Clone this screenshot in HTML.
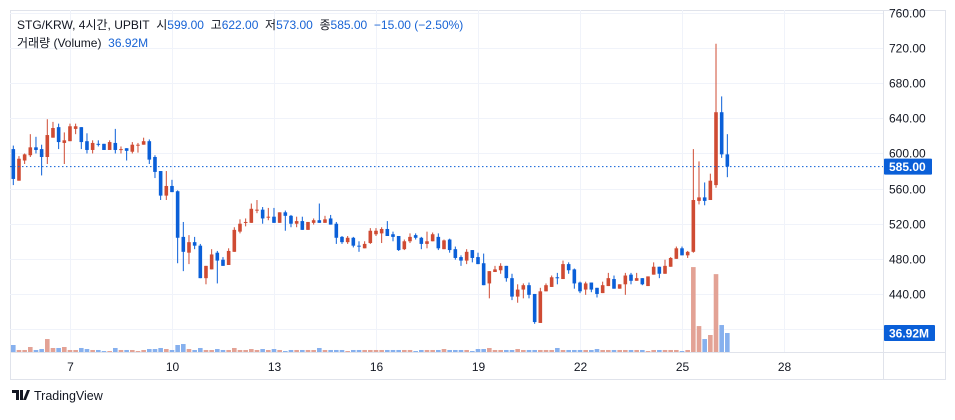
<!DOCTYPE html>
<html><head><meta charset="utf-8">
<style>
body{margin:0;background:#fff;width:955px;height:415px;overflow:hidden;font-family:"Liberation Sans","Noto Sans CJK KR",sans-serif;}
svg text{font-family:"Liberation Sans","Noto Sans CJK KR",sans-serif;}
</style></head>
<body>
<svg id="chart" width="955" height="415" xmlns="http://www.w3.org/2000/svg">
<rect x="0" y="0" width="955" height="415" fill="#fff"/>
<g id="grid"></g>
<g id="vols"></g>
<g id="candles"></g>
<g id="axis"></g>
</svg>
<script>
const opens=[605,569,592,598,607,605,596,618,630,612,614,628,630,614,604,611,611,604,612,604,606,602,609,610,614,596,580,552,563,557,505,487,499,495,458,468,487,479,473,488,511,521,521,535,536,527,528,521,533,529,520,523,513,521,524,521,526,520,505,499,504,495,492,498,508,509,514,508,506,491,500,507,504,497,500,505,491,502,491,482,478,490,482,475,452,465,467,472,458,437,445,450,440,407,443,448,459,457,474,468,453,445,453,447,441,449,457,446,451,462,455,458,449,462,471,463,471,480,492,484,488,546,550,547,564,647,599];
const highs=[609,597,600,622,619,610,639,636,634,624,634,634,630,623,615,615,611,615,628,608,606,613,612,618,616,598,580,580,570,558,522,507,505,497,472,491,489,482,492,516,525,526,543,547,539,538,538,533,535,530,528,528,522,526,543,529,530,522,506,506,505,500,500,515,515,516,523,511,506,502,509,509,505,511,510,509,502,503,494,484,491,490,487,486,466,472,475,472,463,451,452,453,440,447,452,461,464,478,476,469,454,454,453,447,454,464,461,451,464,464,464,458,460,476,471,479,482,494,494,489,605,591,567,577,725,665,622];
const lows=[564,569,588,596,600,575,588,618,605,588,614,622,605,600,600,608,604,604,600,600,592,600,601,610,588,572,547,547,556,475,466,474,491,458,451,468,452,472,473,488,509,517,521,532,520,524,521,521,512,516,516,513,513,519,521,521,519,497,497,497,493,488,492,497,506,498,506,500,489,490,498,502,491,492,500,490,491,487,479,472,474,476,474,450,435,465,463,454,433,430,435,435,406,407,443,448,451,457,463,446,441,439,442,436,441,449,446,446,439,451,455,450,449,462,458,463,471,480,484,481,487,542,541,547,561,595,573];
const closes=[571,594,599,607,604,596,621,629,613,615,631,631,613,604,612,610,604,613,604,605,603,610,610,614,593,579,552,563,556,504,488,499,495,458,472,485,478,472,489,513,520,522,537,536,526,528,521,533,529,520,523,513,522,524,521,525,519,504,499,504,495,494,497,512,512,514,506,505,490,500,505,504,497,500,508,492,501,490,481,478,488,481,474,450,466,468,472,458,437,445,450,439,408,443,450,459,458,474,467,452,443,452,445,440,450,458,446,451,461,455,458,451,460,471,463,472,481,492,484,488,547,550,546,569,647,599,585];
const volumes=[13.6,3.9,3.9,9.7,3.9,5.8,25.2,7.8,7.8,9.7,3.9,3.9,7.8,5.8,3.9,3.9,1.9,1.9,7.8,3.9,3.9,3.9,1.9,3.9,5.8,5.8,7.8,5.8,3.9,13.6,15.5,5.8,3.9,7.8,3.9,3.9,5.8,3.9,3.9,7.8,3.9,3.9,5.8,3.9,5.8,3.9,5.8,3.9,1.9,3.9,3.9,3.9,3.9,3.9,7.8,3.9,3.9,3.9,3.9,1.9,3.9,3.9,3.9,3.9,3.9,3.9,3.9,3.9,3.9,3.9,3.9,1.9,3.9,3.9,3.9,3.9,5.8,3.9,3.9,3.9,3.9,1.9,5.8,5.8,7.8,3.9,3.9,3.9,3.9,5.8,3.9,3.9,3.9,3.9,3.9,3.9,7.8,3.9,3.9,3.9,3.9,3.9,3.9,5.8,3.9,3.9,3.9,3.9,3.9,3.9,3.9,3.9,1.9,3.9,3.9,3.9,3.9,3.9,1.9,3.9,165,50.4,25.2,33,151.3,52.4,36.92];
const priceTicks=[400,440,480,520,560,600,640,680,720,760];
const dayLabels=["7","10","13","16","19","22","25","28"];
const dayIndex=[10,28,46,64,82,100,118,136];
const lastPrice=585;
const lastVolume=36.92;

const NS="http://www.w3.org/2000/svg";
const UP="#cf4b33", DOWN="#0a5fd8";
function xOf(i){return 13.3+i*5.667;}
function yOf(p){return 13+(760-p)*0.878;}
const volBase=352;
function vH(v){return v*19/36.92;}
function mk(tag,attrs,parent){const e=document.createElementNS(NS,tag);for(const k in attrs)e.setAttribute(k,attrs[k]);parent.appendChild(e);return e;}
const grid=document.getElementById('grid'),vols=document.getElementById('vols'),cg=document.getElementById('candles'),ax=document.getElementById('axis');

// frame
let fr=mk('rect',{x:10.5,y:10.5,width:935,height:369,fill:'none',stroke:'#e0e3eb'},grid);


mk('line',{x1:883.5,y1:10,x2:883.5,y2:379,stroke:'#e0e3eb'},grid);
mk('line',{x1:10,y1:352.5,x2:945,y2:352.5,stroke:'#e0e3eb'},grid);

priceTicks.forEach(p=>{
  const y=Math.round(yOf(p))+0.5;
  const l=mk('line',{x1:10,y1:y,x2:883,y2:y,stroke:'#f0f3fa'},grid);
  
  
  if(p!==400){
    const t=mk('text',{x:889,y:y+4,'font-size':12,fill:'#131722'},ax);
    t.textContent=p.toFixed(2);
    
    
  }
});
dayLabels.forEach((d,k)=>{
  const x=Math.round(xOf(dayIndex[k]))+0.5;
  const l=mk('line',{x1:x,y1:10,x2:x,y2:352,stroke:'#f0f3fa'},grid);
  
  
  const t=mk('text',{x:x,y:371,'font-size':12,fill:'#131722','text-anchor':'middle'},ax);
  t.textContent=d;
  
  
});

closes.forEach((c,i)=>{
  const o=opens[i],up=c>=o,x=xOf(i);
  const vb=mk('rect',{x:x-2.3,y:volBase-vH(volumes[i]),width:4.6,height:vH(volumes[i]),fill:up?'#e3a295':'#86b0ee'},vols);
  
  
  const col=up?UP:DOWN;
  const w=mk('line',{x1:x,x2:x,y1:yOf(highs[i]),y2:yOf(lows[i]),stroke:col,'stroke-width':1},cg);
  
  
  const top=yOf(Math.max(o,c)),bot=yOf(Math.min(o,c));
  const b=mk('rect',{x:x-1.8,y:top,width:3.6,height:Math.max(1,bot-top),fill:col},cg);
  
  
});

// last price line
const ly=yOf(lastPrice);
const pl=mk('line',{x1:10,x2:883,y1:ly,y2:ly,stroke:DOWN,'stroke-dasharray':'1.5 2.5','stroke-width':1},ax);


const pb=mk('rect',{x:884,y:ly-8,width:48,height:16,fill:'#0a5fd8',rx:1},ax);


const pt=mk('text',{x:889,y:ly+4.5,'font-size':12,'font-weight':'bold',fill:'#fff'},ax);
pt.textContent=lastPrice.toFixed(2);


const vy=volBase-vH(lastVolume);
const vbg=mk('rect',{x:884,y:325,width:51,height:16,fill:'#0a5fd8',rx:1},ax);


const vt=mk('text',{x:889,y:337.5,'font-size':12,'font-weight':'bold',fill:'#fff'},ax);
vt.textContent=lastVolume.toFixed(2)+'M';


</script>
<div style="position:absolute;left:17px;top:16px;font-size:12px;color:#131722;white-space:nowrap;">STG/KRW, 4시간, UPBIT&nbsp; 시<span style="color:#1763d5">599.00</span>&nbsp; 고<span style="color:#1763d5">622.00</span>&nbsp; 저<span style="color:#1763d5">573.00</span>&nbsp; 종<span style="color:#1763d5">585.00</span>&nbsp; <span style="color:#1763d5">−15.00 (−2.50%)</span></div>
<div style="position:absolute;left:17px;top:34px;font-size:12px;color:#131722;white-space:nowrap;">거래량 (Volume)&nbsp; <span style="color:#1763d5">36.92M</span></div>
<div style="position:absolute;left:12px;top:389px;display:flex;align-items:center;font-size:12.5px;color:#131722;">
<svg width="18" height="12"><path d="M0 0h7v10H4V3H0z M8 0h3v10H8z" fill="#131722"/><path d="M11 10l4-10h3l-4 10z" fill="#131722"/></svg>
<span style="margin-left:4px">TradingView</span></div>
</body></html>
